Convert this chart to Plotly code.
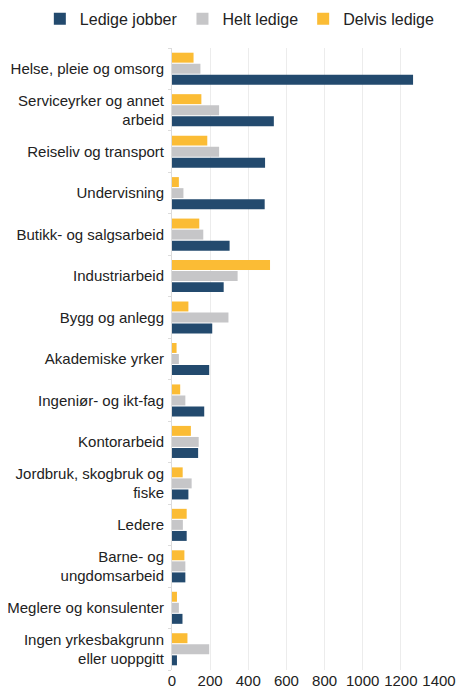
import plotly.graph_objects as go

categories = [
    "Helse, pleie og omsorg",
    "Serviceyrker og annet<br>arbeid",
    "Reiseliv og transport",
    "Undervisning",
    "Butikk- og salgsarbeid",
    "Industriarbeid",
    "Bygg og anlegg",
    "Akademiske yrker",
    "Ingeniør- og ikt-fag",
    "Kontorarbeid",
    "Jordbruk, skogbruk og<br>fiske",
    "Ledere",
    "Barne- og<br>ungdomsarbeid",
    "Meglere og konsulenter",
    "Ingen yrkesbakgrunn<br>eller uoppgitt",
]

ledige_jobber = [1264, 534, 488, 486, 302, 271, 211, 195, 169, 137, 86, 77, 70, 55, 26]
helt_ledige = [149, 247, 247, 60, 164, 344, 296, 36, 70, 140, 103, 57, 70, 36, 195]
delvis_ledige = [113, 154, 185, 36, 143, 514, 86, 24, 43, 99, 56, 77, 65, 26, 81]

x_ticks = [0, 200, 400, 600, 800, 1000, 1200, 1400]

series = [
    ("Ledige jobber", ledige_jobber, "#234a6e"),
    ("Helt ledige", helt_ledige, "#c6c6c8"),
    ("Delvis ledige", delvis_ledige, "#fbbc35"),
]

fig = go.Figure()
for name, vals, color in series:
    fig.add_trace(go.Bar(
        y=categories, x=vals, name=name, orientation="h",
        marker=dict(color=color, line=dict(width=0)),
    ))

font_family = "Liberation Sans, Arial, sans-serif"
fig.update_layout(
    width=448, height=681,
    barmode="group", bargap=0.2, bargroupgap=0.1,
    paper_bgcolor="white", plot_bgcolor="white",
    margin=dict(l=164, r=17, t=40, b=19, autoexpand=False),
    font=dict(family=font_family, size=15, color="#222222"),
    legend=dict(orientation="h", x=-0.495, xanchor="left", xref="paper",
                y=1.047, yanchor="middle", yref="paper",
                traceorder="normal", font=dict(size=16), itemwidth=30,
                bgcolor="rgba(0,0,0,0)"),
    xaxis=dict(range=[0, 1400], tickvals=x_ticks, showgrid=True, gridcolor="#ececec",
               gridwidth=1, zeroline=False, showline=False, ticks="",
               tickfont=dict(size=15, color="#222222")),
    yaxis=dict(categoryorder="array", categoryarray=categories[::-1],
               showline=True, linecolor="#dcdcdc", linewidth=1,
               ticks="outside", tickson="boundaries", ticklen=3, tickcolor="#dcdcdc",
               ticklabelstandoff=4,
               showgrid=False, tickfont=dict(size=15, color="#222222")),
)

fig.write_html("out.html")
